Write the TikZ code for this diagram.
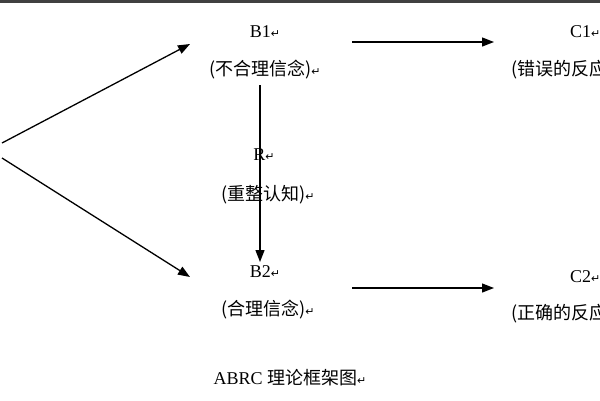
\documentclass[tikz,border=0pt]{standalone}
\usepackage{fontspec}
\setmainfont{Liberation Serif}
\newfontfamily\cjk{Noto Sans CJK SC}
\newfontfamily\djvfont{DejaVu Sans}
\usetikzlibrary{arrows.meta}
\begin{document}
\begin{tikzpicture}[x=1pt,y=-1pt,
  lbl/.style={inner sep=0pt,font=\fontsize{18}{20}\selectfont},
  arr/.style={line width=1.3pt,-{Triangle[length=12pt,width=9pt]}}]
\useasboundingbox (0,0) rectangle (600,400);
\clip (0,0) rectangle (600,400);
\fill[black!75] (0,0) rectangle (600,3);
\newcommand{\rtmark}{{\djvfont\fontsize{11}{11}\selectfont ↵}}
\node[lbl] (b1) at (265,32) {B1\rtmark};
\node[lbl] (b1t) at (265,70) {\cjk(不合理信念)\rtmark};
\node[lbl,anchor=west] (c1) at (570,32) {C1\rtmark};
\node[lbl,anchor=west] (c1t) at (511,70) {\cjk(错误的反应)};
\node[lbl] (r) at (264,155) {R\rtmark};
\node[lbl] (rt) at (268,195) {\cjk(重整认知)\rtmark};
\node[lbl] (b2) at (265,272) {B2\rtmark};
\node[lbl] (b2t) at (268,310) {\cjk(合理信念)\rtmark};
\node[lbl,anchor=west] (c2) at (570,277) {C2\rtmark};
\node[lbl,anchor=west] (c2t) at (511,314) {\cjk(正确的反应)};
\node[lbl] (cap) at (290,378) {ABRC {\cjk 理论框架图}\rtmark};
\coordinate (a1) at (2,143);
\coordinate (a2) at (2,158);
\coordinate (t1) at (190,44);
\coordinate (t2) at (190,277);
\coordinate (v1) at (260,85);
\coordinate (v2) at (260,262);
\coordinate (h1s) at (352,42);
\coordinate (h1e) at (494,42);
\coordinate (h2s) at (352,288);
\coordinate (h2e) at (494,288);
\draw[arr] (a1) -- (t1);
\draw[arr] (a2) -- (t2);
\draw[arr] (v1) -- (v2);
\draw[arr] (h1s) -- (h1e);
\draw[arr] (h2s) -- (h2e);
\end{tikzpicture}
\end{document}
